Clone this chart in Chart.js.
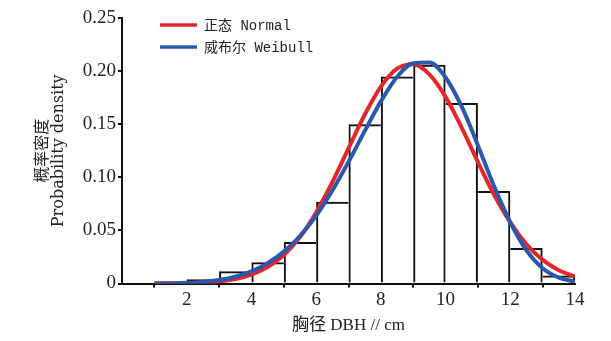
<!DOCTYPE html>
<html>
<head>
<meta charset="utf-8">
<script src="https://cdn.jsdelivr.net/npm/chart.js@4.4.1/dist/chart.umd.min.js"></script>
<style>
  html, body { margin: 0; padding: 0; background: #fff; }
  #wrap { width: 611px; height: 341px; }
</style>
</head>
<body>
<div id="wrap"><canvas id="chart" width="611" height="341"></canvas></div>
<script>
// histogram bins (left edge of each 1 cm class) and observed density
const binStart = [2, 3, 4, 5, 6, 7, 8, 9, 10, 11, 12, 13];
const binDensity = [0.004, 0.0115, 0.020, 0.039, 0.077, 0.150, 0.195, 0.206, 0.170, 0.087, 0.0335, 0.0075];

// fitted curves, every 0.5 cm
const curveX = [1, 1.5, 2, 2.5, 3, 3.5, 4, 4.5, 5, 5.5, 6, 6.5, 7, 7.5, 8, 8.5, 9, 9.5, 10, 10.5, 11, 11.5, 12, 12.5, 13, 13.5, 14];
const normalY = [0.0001, 0.0002, 0.0004, 0.0009, 0.0019, 0.0042, 0.0084, 0.0154, 0.0268, 0.0438, 0.0669, 0.0954, 0.1273, 0.1589, 0.1854, 0.2023, 0.2064, 0.1969, 0.1757, 0.1466, 0.1144, 0.0834, 0.0575, 0.0370, 0.0222, 0.0125, 0.0066];
const weibullY = [0.0000, 0.0001, 0.0006, 0.0015, 0.0033, 0.0064, 0.0114, 0.0191, 0.0300, 0.0447, 0.0637, 0.0875, 0.1145, 0.1435, 0.1715, 0.1945, 0.2075, 0.2080, 0.1940, 0.1665, 0.1300, 0.0915, 0.0576, 0.0311, 0.0143, 0.0055, 0.0017];

// axis ticks
const xTicks = [2, 4, 6, 8, 10, 12, 14];
const yTicks = [0, 0.05, 0.10, 0.15, 0.20, 0.25];
const yTickLabels = ['0', '0.05', '0.10', '0.15', '0.20', '0.25'];

const seriesNames = ['正态 Normal', '威布尔 Weibull'];
const red = '#e4262b';
const blue = '#2a58ad';

const serif = "'Liberation Serif', 'Noto Sans CJK SC', serif";
const wideSerif = "'DejaVu Serif', 'Noto Sans CJK SC', serif";
const mono = "'Liberation Mono', 'Noto Sans CJK SC', monospace";

// small legend drawn inside the plot, top left
const legendPlugin = {
    id: 'innerLegend',
    afterDraw(chart) {
        const ctx = chart.ctx;
        const items = [
            { text: seriesNames[0], color: red, y: 25 },
            { text: seriesNames[1], color: blue, y: 47 }
        ];
        ctx.save();
        ctx.font = "14px " + mono;
        ctx.textBaseline = 'middle';
        items.forEach(it => {
            ctx.strokeStyle = it.color;
            ctx.lineWidth = 3.5;
            ctx.beginPath();
            ctx.moveTo(160, it.y);
            ctx.lineTo(197, it.y);
            ctx.stroke();
            ctx.fillStyle = '#222';
            ctx.fillText(it.text, 204, it.y + 1);
        });
        ctx.restore();
    }
};

// a shared edge between two bins is drawn once, by the taller bar
function barBorder(c) {
    const i = c.dataIndex;
    const h = binDensity;
    const n = h.length;
    return {
        top: 2,
        bottom: 0,
        left: (i === 0 || h[i] >= h[i - 1]) ? 2 : 0,
        right: (i === n - 1 || h[i] > h[i + 1]) ? 2 : 0
    };
}

const ctx = document.getElementById('chart').getContext('2d');
new Chart(ctx, {
    type: 'bar',
    data: {
        datasets: [
            {
                type: 'line',
                label: seriesNames[1],
                data: curveX.map((x, i) => ({ x: x, y: weibullY[i] })),
                borderColor: blue,
                borderWidth: 4,
                pointRadius: 0,
                cubicInterpolationMode: 'monotone',
                fill: false,
                order: 1
            },
            {
                type: 'line',
                label: seriesNames[0],
                data: curveX.map((x, i) => ({ x: x, y: normalY[i] })),
                borderColor: red,
                borderWidth: 4,
                pointRadius: 0,
                cubicInterpolationMode: 'monotone',
                fill: false,
                order: 2
            },
            {
                type: 'bar',
                label: 'hist',
                data: binStart.map((b, i) => ({ x: b + 0.5, y: binDensity[i] })),
                backgroundColor: 'rgba(255,255,255,0)',
                borderColor: '#111',
                borderWidth: barBorder,
                borderSkipped: false,
                inflateAmount: 0,
                barPercentage: 1,
                categoryPercentage: 1,
                order: 3
            }
        ]
    },
    options: {
        responsive: false,
        animation: false,
        devicePixelRatio: 1,
        layout: { padding: { left: 0, right: 36, top: 18, bottom: 0 } },
        plugins: {
            legend: { display: false },
            tooltip: { enabled: false }
        },
        scales: {
            x: {
                type: 'linear',
                min: 0,
                max: 14,
                offset: false,
                afterFit: s => { s.height = 57.5; },
                afterBuildTicks: s => { s.ticks = xTicks.map(v => ({ value: v })); },
                ticks: {
                    color: '#222',
                    font: { family: serif, size: 19 },
                    padding: 1,
                    maxRotation: 0
                },
                grid: { drawOnChartArea: false, drawTicks: true, tickLength: 4, color: '#111', lineWidth: 2 },
                border: { color: '#111', width: 2 },
                title: {
                    display: true,
                    text: '胸径 DBH // cm',
                    color: '#222',
                    font: { family: serif, size: 17 },
                    padding: { top: 0, bottom: 5 }
                }
            },
            y: {
                min: 0,
                max: 0.25,
                afterFit: s => { s.width = 122; },
                afterBuildTicks: s => { s.ticks = yTicks.map(v => ({ value: v })); },
                ticks: {
                    color: '#222',
                    font: { family: serif, size: 19 },
                    padding: 2,
                    callback: (v) => yTickLabels[yTicks.findIndex(t => Math.abs(t - v) < 1e-9)]
                },
                grid: { drawOnChartArea: false, drawTicks: true, tickLength: 4, color: '#111', lineWidth: 2 },
                border: { color: '#111', width: 2 },
                title: {
                    display: true,
                    text: ['概率密度', 'Probability density'],
                    color: '#222',
                    font: { family: wideSerif, size: 16, lineHeight: 1.05 },
                    padding: { top: 34, bottom: 0 }
                }
            }
        }
    },
    plugins: [legendPlugin]
});
</script>
</body>
</html>
